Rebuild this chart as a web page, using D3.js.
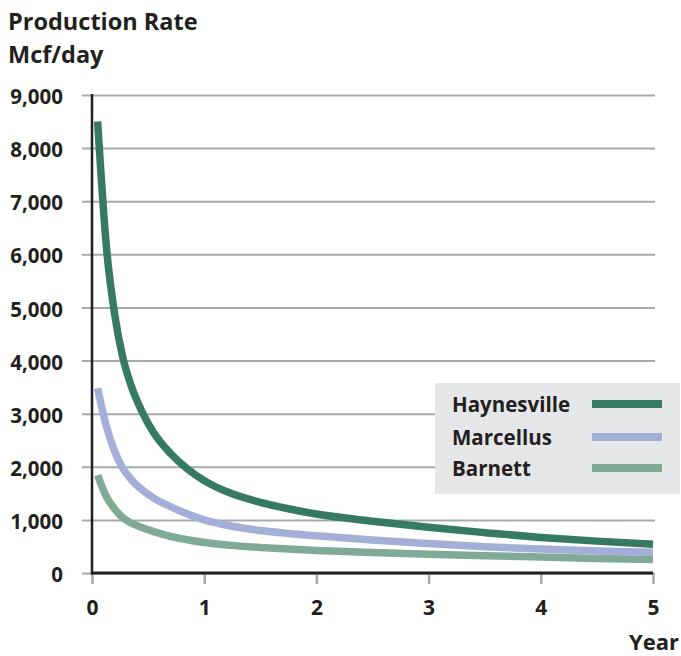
<!DOCTYPE html>
<html>
<head>
<meta charset="utf-8">
<script src="https://cdn.jsdelivr.net/npm/d3@7"></script>
<style>
  html, body { margin: 0; padding: 0; background: #fff; }
  svg { display: block; }
  text { font-family: "Open Sans", Lato, sans-serif; font-weight: 700; fill: #231f20; }
</style>
</head>
<body>
<svg id="chart" width="681" height="656"></svg>
<script>
// ---- data ----
const years = [0.05, 0.13, 0.2, 0.27, 0.35, 0.45, 0.55, 0.7, 0.85, 1, 1.25, 1.5, 1.75, 2, 2.5, 3, 3.5, 4, 4.5, 5];
const haynesville = [8500, 6100, 4900, 4100, 3520, 3020, 2640, 2250, 1960, 1740, 1490, 1330, 1210, 1110, 975, 860, 760, 670, 600, 540];
const marcellus   = [3480, 2750, 2300, 1990, 1760, 1560, 1410, 1250, 1110, 1000, 880, 800, 745, 700, 620, 555, 495, 450, 415, 390];
const barnett     = [1840, 1430, 1210, 1050, 940, 850, 780, 690, 625, 575, 520, 480, 450, 425, 385, 352, 325, 300, 275, 252];
const seriesNames = ["Haynesville", "Marcellus", "Barnett"];
const seriesColors = ["#377a62", "#a3afd7", "#80aa98"];
const yTicks = [0, 1000, 2000, 3000, 4000, 5000, 6000, 7000, 8000, 9000];
const xTicks = [0, 1, 2, 3, 4, 5];
const titleLines = ["Production Rate", "Mcf/day"];
const xTitle = "Year";

const seriesValues = [haynesville, marcellus, barnett];
const series = seriesNames.map((name, i) => ({
  name, color: seriesColors[i],
  points: years.map((t, j) => ({ t, v: seriesValues[i][j] }))
}));

// ---- layout ----
const svg = d3.select("#chart");
const x = d3.scaleLinear().domain([0, 5]).range([92, 653]);
const y = d3.scaleLinear().domain([0, 9000]).range([573, 95]);

// gridlines with left stubs
const yAxis = d3.axisLeft(y).tickValues(yTicks).tickSize(-(655 - 92)).tickSizeOuter(0).tickFormat(d3.format(","));
const gy = svg.append("g").attr("transform", "translate(92,0)").call(yAxis);
gy.select(".domain").remove();
gy.selectAll(".tick line").attr("x1", -10).attr("x2", 655 - 92).attr("stroke", "#a7a9ac").attr("stroke-width", 2);
gy.selectAll(".tick text").attr("x", -29).attr("dy", "0.42em")
  .style("font-size", "20.5px").style("font-family", "'Open Sans', sans-serif").style("font-weight", 700).attr("fill", "#231f20");

// x axis
const xAxis = d3.axisBottom(x).tickValues(xTicks).tickSize(11).tickSizeOuter(0).tickFormat(d3.format("d"));
const gx = svg.append("g").attr("transform", "translate(0,573)").call(xAxis);
gx.select(".domain").remove();
gx.selectAll(".tick line").attr("stroke", "#a7a9ac").attr("stroke-width", 2.5);
gx.selectAll(".tick text").attr("y", 27).attr("dy", "0.71em")
  .style("font-size", "21px").style("font-family", "'Open Sans', sans-serif").style("font-weight", 700).attr("fill", "#231f20");

// curves
const line = d3.line().x(d => x(d.t)).y(d => y(d.v)).curve(d3.curveMonotoneX);
svg.append("g").selectAll("path").data(series.slice().reverse()).join("path")
  .attr("d", d => line(d.points))
  .attr("fill", "none").attr("stroke", d => d.color)
  .attr("stroke-width", 7.5).attr("stroke-linecap", "butt").attr("stroke-linejoin", "round");

// axis lines (black)
svg.append("line").attr("x1", x(0)).attr("x2", x(0)).attr("y1", y(9000) - 1).attr("y2", y(0) + 1.5)
  .attr("stroke", "#231f20").attr("stroke-width", 2.5);
svg.append("line").attr("x1", x(0) - 1).attr("x2", x(5)).attr("y1", y(0)).attr("y2", y(0))
  .attr("stroke", "#231f20").attr("stroke-width", 3);

// titles
svg.append("g").selectAll("text").data(titleLines).join("text")
  .attr("x", 8).attr("y", (d, i) => 30 + i * 32.5)
  .style("font-size", "23.5px").text(d => d);
svg.append("text").attr("x", 679).attr("y", 650).attr("text-anchor", "end")
  .style("font-size", "22px").text(xTitle);

// legend
const lg = svg.append("g");
lg.append("rect").attr("x", 435).attr("y", 383).attr("width", 245).attr("height", 111).attr("fill", "#e6e7e8");
const items = lg.selectAll("g.item").data(series).join("g").attr("class", "item")
  .attr("transform", (d, i) => `translate(0,${[404, 437, 468][i]})`);
items.append("text").attr("x", 452).attr("y", 8).style("font-size", "20.5px").text(d => d.name);
items.append("line").attr("x1", 592).attr("x2", 662).attr("y1", 0).attr("y2", 0)
  .attr("stroke", d => d.color).attr("stroke-width", 8);
</script>
</body>
</html>
